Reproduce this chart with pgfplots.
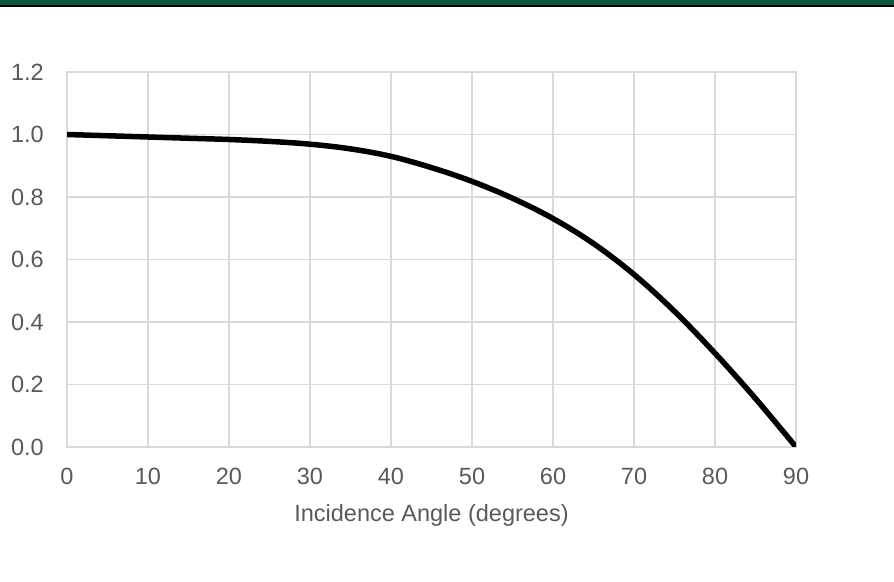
\documentclass[border=0pt]{standalone}
\usepackage{fontspec}
\setmainfont{Liberation Sans}
\usepackage{pgfplots}
\pgfplotsset{compat=1.18}
\definecolor{bandgreen}{HTML}{09573D}
\definecolor{gridgray}{HTML}{D9D9D9}
\definecolor{txtgray}{HTML}{595959}
\begin{document}
\begin{tikzpicture}
\path[use as bounding box] (0,0) rectangle (894bp,582bp);
\fill[bandgreen] (0,577bp) rectangle (894bp,582bp);
\fill[black] (0,575bp) rectangle (894bp,577bp);
\begin{axis}[
  at={(67bp,135bp)}, anchor=south west,
  scale only axis, width=729bp, height=375bp,
  xmin=0, xmax=90, ymin=0, ymax=1.2,
  xtick={0,10,...,90}, ytick={0,0.2,...,1.2},
  grid=major, major grid style={gridgray, line width=1.4bp},
  axis line style={gridgray, line width=1.4bp},
  major tick length=0pt,
  /pgf/number format/assume math mode=true,
  font=\fontsize{23.5bp}{28bp}\selectfont,
  tick label style={text=txtgray, font=\fontsize{23.5bp}{28bp}\selectfont},
  yticklabel={\pgfmathprintnumber[fixed,fixed zerofill,precision=1]{\tick}},
  xticklabel style={inner sep=0pt, anchor=north, yshift=-21bp},
  yticklabel style={inner sep=0pt, anchor=east, xshift=-23bp},
  xlabel={Incidence Angle (degrees)},
  xlabel style={text=txtgray, at={(axis description cs:0.5,0)}, anchor=north, yshift=-57bp, inner sep=0pt},
]
\addplot[black, line width=5.5bp, smooth, tension=0.6] coordinates {
(0,1.000) (5,0.996) (10,0.992) (15,0.988) (20,0.984) (25,0.978) (30,0.969)
(35,0.954) (40,0.930) (45,0.894) (50,0.850) (55,0.796) (60,0.731)
(65,0.651) (70,0.552) (75,0.434) (80,0.300) (85,0.155) (90,0.000)
};
\end{axis}
\end{tikzpicture}
\end{document}
